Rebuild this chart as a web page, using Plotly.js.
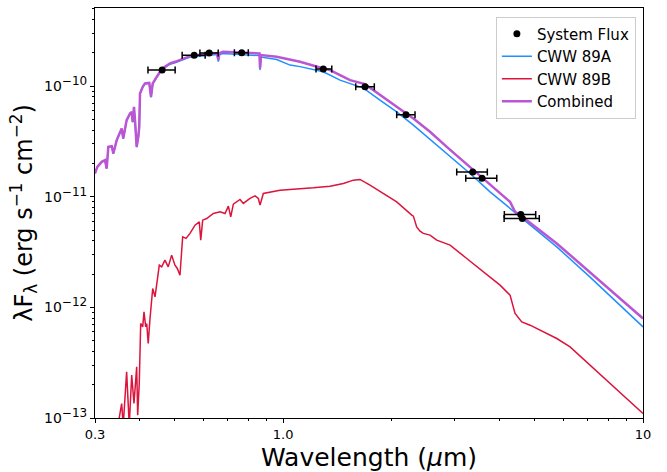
<!DOCTYPE html>
<html>
<head>
<meta charset="utf-8">
<script src="https://cdn.plot.ly/plotly-3.0.1.min.js"></script>
<style>html,body{margin:0;padding:0;background:#fff;}#chart{width:667px;height:472px;}</style>
</head>
<body>
<div id="chart"></div>
<script>
// ---- data (wavelength in micron, lambda*F_lambda in erg s^-1 cm^-2) ----
const wlComb = [0.300,0.3045,0.3131,0.3198,0.3233,0.3267,0.3339,0.3373,0.3447,0.3520,0.3558,0.3594,0.3673,0.3753,0.3794,0.3818,0.3850,0.3875,0.3917,0.3958,0.3982,0.4001,0.4071,0.4131,0.4246,0.4293,0.4340,0.4452,0.4547,0.4693,0.4847,0.5006,0.5170,0.5337,0.5510,0.5752,0.6262,0.6549,0.6604,0.6654,0.6806,0.7588,0.8443,0.8596,0.8625,0.8681,0.9596,1.114,1.293,1.350,1.439,1.534,1.689,1.858,2.068,2.301,2.559,2.849,3.377,3.923,4.271,4.410,4.553,5.759,7.128,10.0];
const fluxComb = [1.625e-11,1.863e-11,2.068e-11,2.143e-11,1.803e-11,2.826e-11,2.868e-11,2.463e-11,3.249e-11,3.736e-11,4.144e-11,3.366e-11,4.928e-11,5.665e-11,5.856e-11,4.755e-11,6.498e-11,4.928e-11,2.826e-11,3.480e-11,4.285e-11,8.59e-11,9.86e-11,1.058e-10,1.071e-10,8.0e-11,1.058e-10,1.213e-10,1.346e-10,1.494e-10,1.604e-10,1.658e-10,1.718e-10,1.780e-10,1.867e-10,1.906e-10,1.975e-10,1.987e-10,1.718e-10,1.987e-10,2.042e-10,2.008e-10,1.975e-10,1.97e-10,1.445e-10,1.906e-10,1.841e-10,1.658e-10,1.445e-10,1.396e-10,1.257e-10,1.133e-10,1.042e-10,8.29e-11,6.498e-11,5.105e-11,3.862e-11,2.826e-11,1.739e-11,1.147e-11,8.99e-12,7.30e-12,6.82e-12,3.783e-12,2.08e-12,7.94e-13];

const wlA = [0.300,0.3045,0.3131,0.3198,0.3233,0.3267,0.3339,0.3373,0.3447,0.3520,0.3558,0.3594,0.3673,0.3753,0.3794,0.3818,0.3850,0.3875,0.3917,0.3958,0.3982,0.4001,0.4071,0.4131,0.4246,0.4293,0.4340,0.4452,0.4547,0.4693,0.4847,0.5006,0.5170,0.5337,0.5510,0.5752,0.6262,0.6549,0.6604,0.6654,0.6806,0.7588,0.8443,0.8596,0.8625,0.8681,0.9596,1.045,1.114,1.293,1.439,1.534,1.671,1.858,2.068,2.301,2.506,2.787,3.306,3.757,4.271,4.651,5.759,7.128,10.0];
const fluxA = [1.62e-11,1.86e-11,2.06e-11,2.13e-11,1.79e-11,2.81e-11,2.85e-11,2.44e-11,3.22e-11,3.70e-11,4.10e-11,3.33e-11,4.87e-11,5.60e-11,5.79e-11,4.70e-11,6.42e-11,4.87e-11,2.80e-11,3.43e-11,4.22e-11,8.50e-11,9.75e-11,1.046e-10,1.059e-10,7.90e-11,1.045e-10,1.197e-10,1.327e-10,1.470e-10,1.576e-10,1.628e-10,1.686e-10,1.745e-10,1.830e-10,1.848e-10,1.906e-10,1.926e-10,1.665e-10,1.926e-10,1.967e-10,1.926e-10,1.887e-10,1.887e-10,1.396e-10,1.829e-10,1.736e-10,1.549e-10,1.50e-10,1.346e-10,1.133e-10,1.058e-10,9.59e-11,7.47e-11,5.856e-11,4.44e-11,3.494e-11,2.638e-11,1.624e-11,1.107e-11,7.84e-12,6.14e-12,3.524e-12,1.875e-12,6.66e-13];

const wlB = [0.3345,0.3504,0.3558,0.3594,0.3673,0.3735,0.3794,0.3850,0.3917,0.3942,0.3982,0.4019,0.4071,0.4105,0.4150,0.4177,0.4217,0.4266,0.4340,0.4405,0.4470,0.4527,0.4597,0.4693,0.4793,0.4899,0.5005,0.5079,0.5167,0.5257,0.5370,0.5510,0.5689,0.5848,0.5901,0.5976,0.6131,0.6397,0.6677,0.6894,0.7042,0.7151,0.7271,0.7588,0.7750,0.8089,0.8353,0.8533,0.8625,0.8808,0.9802,1.091,1.213,1.350,1.470,1.567,1.635,1.743,1.898,2.068,2.277,2.301,2.350,2.401,2.452,2.559,2.672,2.910,3.237,3.600,4.006,4.271,4.410,4.603,4.855,5.759,6.270,10.0];
const fluxB = [4.15e-14,9.9e-14,1.352e-13,8.6e-14,2.61e-13,8.6e-14,2.44e-13,1.352e-13,2.897e-13,1.06e-13,2.05e-13,7.15e-13,6.66e-13,9.11e-13,6.66e-13,7.15e-13,4.72e-13,7.94e-13,1.482e-12,1.244e-12,1.761e-12,2.407e-12,2.323e-12,2.672e-12,2.323e-12,2.965e-12,2.407e-12,2.247e-12,1.954e-12,4.34e-12,4.20e-12,4.66e-12,5.53e-12,5.93e-12,4.05e-12,6.14e-12,6.36e-12,7.06e-12,7.30e-12,7.06e-12,8.22e-12,6.58e-12,8.57e-12,9.45e-12,8.70e-12,9.65e-12,1.019e-11,9.65e-12,8.39e-12,1.071e-11,1.147e-11,1.171e-11,1.203e-11,1.246e-11,1.319e-11,1.413e-11,1.433e-11,1.273e-11,1.071e-11,8.99e-12,6.82e-12,6.68e-12,5.34e-12,4.89e-12,4.66e-12,4.50e-12,4.05e-12,3.65e-12,2.767e-12,2.094e-12,1.588e-12,1.289e-12,8.81e-13,7.39e-13,6.90e-13,5.23e-13,4.39e-13,1.10e-13];

const wlPts = [0.461,0.566,0.623,0.767,1.293,1.689,2.195,3.364,3.570,4.575,4.62];
const fluxPts = [1.40e-10,1.905e-10,1.99e-10,2.0e-10,1.43e-10,9.86e-11,5.5e-11,1.67e-11,1.47e-11,6.92e-12,6.37e-12];
const errMinus = [0.040,0.042,0.036,0.035,0.059,0.098,0.127,0.328,0.353,0.457,0.508];
const errPlus = [0.040,0.041,0.037,0.033,0.072,0.103,0.130,0.329,0.353,0.458,0.530];

const xTickVals = [0.3, 1, 10];
const xTickText = ['0.3', '1.0', '10'];
const yTickVals = [1e-13, 1e-12, 1e-11, 1e-10];
const yExponents = ['−13', '−12', '−11', '−10'];
const yTickText = yExponents.map(e => '10<sup><span style="font-size:12px">' + e + '</span></sup>');

// minor tick positions
const xMinor = [];
for (let d = 0.1; d < 10; d *= 10) for (let m = 2; m <= 9; m++) { const v = +(m * d).toPrecision(3); if (v > 0.3 && v < 10 && v !== 1) xMinor.push(v); }
const yMinor = [];
for (let e = -13; e <= -10; e++) for (let m = 2; m <= 9; m++) yMinor.push(m * Math.pow(10, e));

const FONT = 'DejaVu Sans, Liberation Sans, sans-serif';

const traces = [
  {x: wlA, y: fluxA, type: 'scatter', mode: 'lines', name: 'CWW 89A',
   line: {color: '#1E90FF', width: 1.5}, legendrank: 2},
  {x: wlB, y: fluxB, type: 'scatter', mode: 'lines', name: 'CWW 89B',
   line: {color: '#DC143C', width: 1.5}, legendrank: 3},
  {x: wlComb, y: fluxComb, type: 'scatter', mode: 'lines', name: 'Combined',
   line: {color: '#BA55D3', width: 2.5}, legendrank: 4},
  {x: wlPts, y: fluxPts, type: 'scatter', mode: 'markers', name: 'System Flux',
   marker: {color: 'black', size: 7},
   error_x: {type: 'data', symmetric: false, array: errPlus, arrayminus: errMinus,
             color: 'black', thickness: 1.5, width: 3.5},
   legendrank: 1}
];

const layout = {
  width: 667, height: 472,
  margin: {l: 95, r: 24, t: 8, b: 54},
  paper_bgcolor: 'white', plot_bgcolor: 'white',
  font: {family: FONT, color: 'black', size: 13},
  showlegend: true,
  legend: {x: 0.987, y: 0.979, xanchor: 'right', yanchor: 'top',
           bgcolor: 'white', bordercolor: '#cccccc', borderwidth: 1,
           font: {family: FONT, size: 15, color: 'black'}, tracegroupgap: 0},
  xaxis: {
    type: 'log', range: [Math.log10(0.3), 1],
    tickmode: 'array', tickvals: xTickVals, ticktext: xTickText,
    ticks: 'outside', ticklen: 4, tickwidth: 1, tickcolor: 'black',
    minor: {tickmode: 'array', tickvals: xMinor, ticks: 'outside', ticklen: 2, tickwidth: 1, tickcolor: 'black', showgrid: false},
    showgrid: false, zeroline: false,
    showline: true, mirror: true, linecolor: 'black', linewidth: 1,
    tickfont: {family: FONT, size: 13},
    title: {text: 'Wavelength (<i>μ</i>m)', font: {family: FONT, size: 25}, standoff: 9}
  },
  yaxis: {
    type: 'log', range: [-13, -9.294],
    tickmode: 'array', tickvals: yTickVals, ticktext: yTickText,
    ticks: 'outside', ticklen: 4, tickwidth: 1, tickcolor: 'black',
    minor: {tickmode: 'array', tickvals: yMinor, ticks: 'outside', ticklen: 2, tickwidth: 1, tickcolor: 'black', showgrid: false},
    showgrid: false, zeroline: false,
    showline: true, mirror: true, linecolor: 'black', linewidth: 1,
    tickfont: {family: FONT, size: 14},
    title: {text: 'λF<sub>λ</sub> (erg s<sup>−1</sup> cm<sup>−2</sup>)', font: {family: FONT, size: 24}, standoff: 4}
  }
};

Plotly.newPlot('chart', traces, layout, {displayModeBar: false, staticPlot: true});
</script>
</body>
</html>
